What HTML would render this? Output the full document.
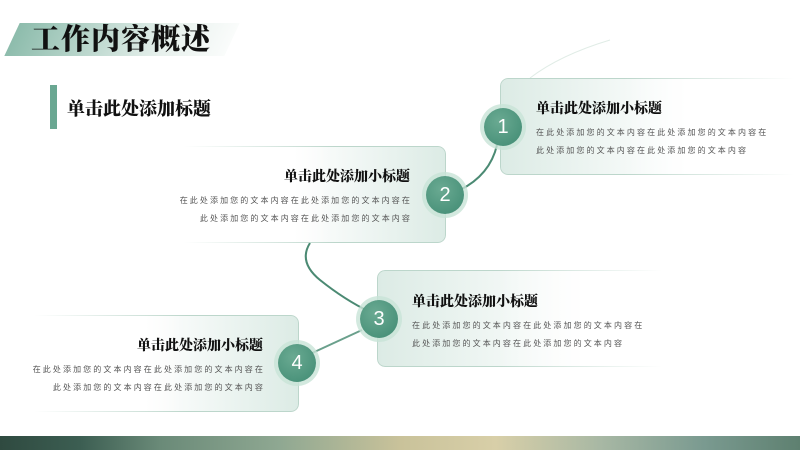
<!DOCTYPE html>
<html><head><meta charset="utf-8"><style>
*{margin:0;padding:0;box-sizing:border-box}
body{width:800px;height:450px;position:relative;overflow:hidden;background:#fff;font-family:"Liberation Sans","Noto Sans CJK SC",sans-serif}
.serif{font-family:"Liberation Serif","Noto Serif CJK SC",serif;font-weight:900;color:#111}
.abs{position:absolute}
.card{position:absolute;border-radius:8px;height:97px;border:1px solid #bcd6cb;box-shadow:0 1px 3px rgba(80,120,100,.25)}
.r{-webkit-mask-image:linear-gradient(90deg,#000 40%,transparent 95%);mask-image:linear-gradient(90deg,#000 40%,transparent 95%)}
.l{-webkit-mask-image:linear-gradient(270deg,#000 40%,transparent 95%);mask-image:linear-gradient(270deg,#000 40%,transparent 95%)}
.body{font-size:8px;letter-spacing:2.1px;color:#555;line-height:18px;white-space:nowrap}
.sub{font-size:14px;white-space:nowrap}
.c{position:absolute;width:38px;height:38px;border-radius:50%;background:radial-gradient(circle at 40% 35%,#6aaa92,#3f8a72);color:#fff;font-size:20px;text-align:center;line-height:38px;box-shadow:0 0 0 4px rgba(200,228,215,.8)}
</style></head><body>
<div class="abs" style="left:12px;top:23px;width:220px;height:33px;background:linear-gradient(90deg,#8dbcac,#e6f0ec 70%,#fafcfb);transform:skewX(-25deg)"></div>
<div class="abs serif" style="left:31px;top:17px;font-size:29px;letter-spacing:1px">工作内容概述</div>
<div class="abs" style="left:50px;top:85px;width:7px;height:44px;background:#6aa792"></div>
<div class="abs serif" style="left:67px;top:95px;font-size:18px">单击此处添加标题</div>

<svg class="abs" style="left:0;top:0" width="800" height="450">
<path d="M530 78 Q560 55 610 40" stroke="#e0ece6" stroke-width="1" fill="none"/>
<path d="M497 145 Q490 175 460 190" stroke="#4b8a73" stroke-width="2" fill="none"/>
<path d="M310 243 Q298 262 320 280 Q345 300 370 312" stroke="#4b8a73" stroke-width="2" fill="none"/>
<path d="M362 330 L310 354" stroke="#6aa08c" stroke-width="2" fill="none"/>
</svg>

<div class="card r" style="left:500px;top:78px;width:310px;background:linear-gradient(90deg,#dcebe5,#fff 60%)"></div>
<div class="card l" style="left:170px;top:146px;width:276px;background:linear-gradient(90deg,#fff 45%,#dcebe5)"></div>
<div class="card r" style="left:377px;top:270px;width:300px;background:linear-gradient(90deg,#dcebe5,#fff 70%)"></div>
<div class="card l" style="left:20px;top:315px;width:279px;background:linear-gradient(90deg,#fff 45%,#dcebe5)"></div>

<div class="abs serif sub" style="left:536px;top:98px">单击此处添加小标题</div>
<div class="abs body" style="left:536px;top:124px">在此处添加您的文本内容在此处添加您的文本内容在<br>此处添加您的文本内容在此处添加您的文本内容</div>

<div class="abs serif sub" style="right:390px;top:166px">单击此处添加小标题</div>
<div class="abs body" style="right:388px;top:192px;text-align:right">在此处添加您的文本内容在此处添加您的文本内容在<br>此处添加您的文本内容在此处添加您的文本内容</div>

<div class="abs serif sub" style="left:412px;top:291px">单击此处添加小标题</div>
<div class="abs body" style="left:412px;top:317px">在此处添加您的文本内容在此处添加您的文本内容在<br>此处添加您的文本内容在此处添加您的文本内容</div>

<div class="abs serif sub" style="right:537px;top:335px">单击此处添加小标题</div>
<div class="abs body" style="right:535px;top:361px;text-align:right">在此处添加您的文本内容在此处添加您的文本内容在<br>此处添加您的文本内容在此处添加您的文本内容</div>

<div class="c" style="left:484px;top:108px">1</div>
<div class="c" style="left:426px;top:176px">2</div>
<div class="c" style="left:360px;top:300px">3</div>
<div class="c" style="left:278px;top:344px">4</div>

<div class="abs" style="left:0;top:436px;width:800px;height:14px;background:linear-gradient(90deg,#2f4a40 0%,#3c5e52 10%,#6a8a78 20%,#8fa892 35%,#c9c29a 50%,#d8cfa8 62%,#a8b8a4 75%,#7a9a90 88%,#5e8070 100%)"></div>
</body></html>
